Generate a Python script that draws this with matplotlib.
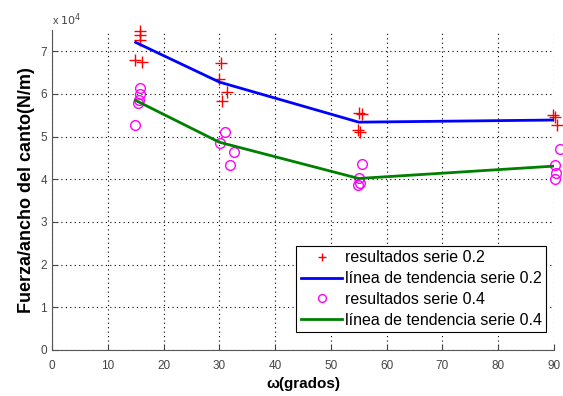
import matplotlib
matplotlib.use("Agg")
import matplotlib.pyplot as plt
import numpy as np

# resultados serie 0.2 (angulo, fuerza/ancho)
x_s02 = [15.7, 15.7, 15.7, 14.8, 16.1,
         30.3, 29.9, 31.3, 30.4,
         55.0, 55.6, 54.8, 55.3,
         89.9, 90.2, 90.5]
y_s02 = [7.48e4, 7.38e4, 7.27e4, 6.80e4, 6.74e4,
         6.73e4, 6.36e4, 6.05e4, 5.84e4,
         5.55e4, 5.53e4, 5.15e4, 5.12e4,
         5.50e4, 5.46e4, 5.27e4]

# resultados serie 0.4
x_s04 = [15.7, 15.8, 15.6, 15.5, 14.9,
         31.1, 30.2, 32.7, 31.9,
         55.6, 55.1, 55.3, 54.9,
         91.0, 90.2, 90.4, 90.2]
y_s04 = [6.13e4, 5.99e4, 5.85e4, 5.78e4, 5.27e4,
         5.10e4, 4.84e4, 4.63e4, 4.33e4,
         4.36e4, 4.02e4, 3.92e4, 3.86e4,
         4.72e4, 4.33e4, 4.16e4, 4.00e4]

# lineas de tendencia
x_trend = [15, 30, 55, 90]
y_trend02 = [7.21e4, 6.28e4, 5.34e4, 5.39e4]
y_trend04 = [5.85e4, 4.87e4, 4.02e4, 4.31e4]

plt.rcParams['font.family'] = ['Liberation Sans', 'DejaVu Sans']

fig = plt.figure(figsize=(5.63, 3.96), dpi=100)
ax = fig.add_axes([52 / 563, 46 / 396, 502 / 563, 320 / 396])

ax.plot(x_s02, y_s02, '+', color='red', ms=8, mew=1, clip_on=False,
        label='resultados serie 0.2')
ax.plot(x_trend, y_trend02, '-', color='blue', lw=2,
        label='línea de tendencia serie 0.2')
ax.plot(x_s04, y_s04, 'o', mfc='none', mec='magenta', ms=7, mew=1, clip_on=False,
        label='resultados serie 0.4')
ax.plot(x_trend, y_trend04, '-', color='green', lw=2,
        label='línea de tendencia serie 0.4')

ax.set_xlim(0, 90)
ax.set_ylim(0, 7.5e4)
ax.set_xticks(np.arange(0, 91, 10))
ax.set_yticks(np.arange(0, 7.1e4, 1e4))
ax.set_yticklabels([str(i) for i in range(8)])
ax.text(0, 1.005, r'x $10^4$', transform=ax.transAxes, fontsize=8, color='#444444',
        ha='left', va='bottom')

ax.grid(True, linestyle=(0, (1, 3)), color='black', lw=0.8)
ax.spines['top'].set_visible(False)
ax.spines['right'].set_visible(False)
for s in ['left', 'bottom']:
    ax.spines[s].set_color('#555555')
ax.tick_params(direction='in', length=4, labelsize=8.5, colors='#444444')
ax.tick_params(axis='x', pad=7)

ax.set_xlabel('ω(grados)', fontsize=11, fontweight='bold', labelpad=4)
ax.set_ylabel('Fuerza/ancho del canto(N/m)', fontsize=13, fontweight='bold')

leg = ax.legend(loc='lower right', bbox_to_anchor=(0.985, 0.055), fontsize=11.5,
                frameon=True, fancybox=False, edgecolor='black', framealpha=1,
                borderaxespad=0, handlelength=2.6, handletextpad=0.15,
                borderpad=0.3, labelspacing=0.36, markerscale=0.8)
leg.get_frame().set_linewidth(0.8)

fig.savefig('out.png', dpi=100)
